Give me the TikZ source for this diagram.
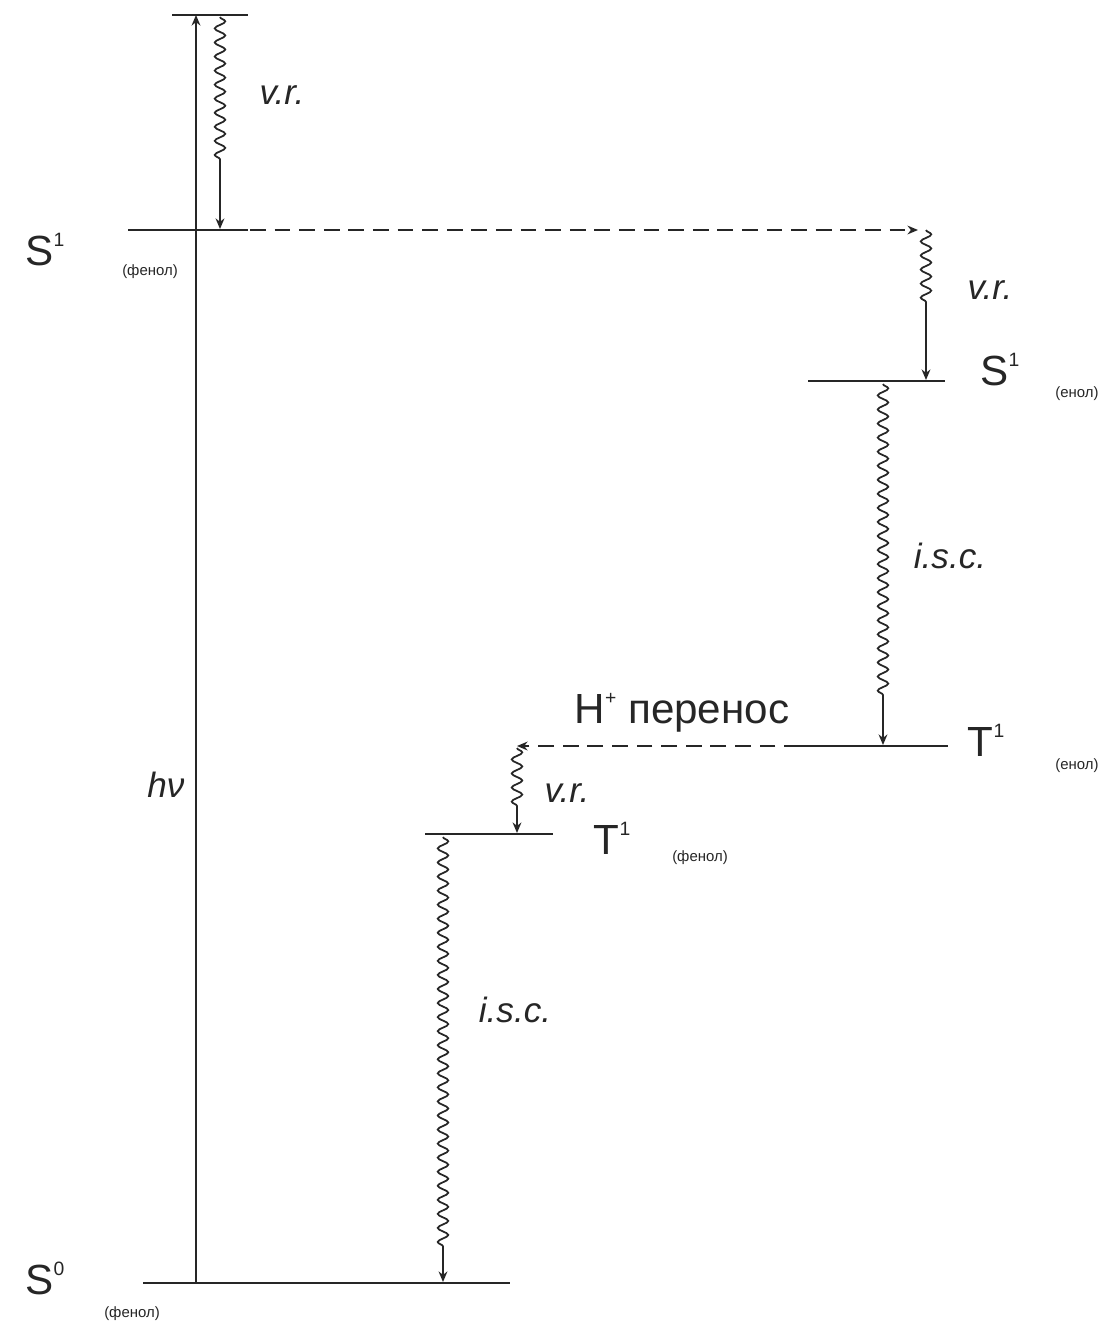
\documentclass[tikz,border=0pt]{standalone}
\usepackage{fontspec}
\setmainfont{Liberation Sans}
\usetikzlibrary{arrows.meta,decorations.pathmorphing}
\tikzset{
  lvl/.style={line width=1.2pt},
  jump/.style={line width=1pt,-{Stealth[length=6pt,width=5pt]}},
  dashjump/.style={jump,dash pattern=on 9pt off 5pt},
  wavy/.style={line width=1pt,-{Stealth[length=6pt,width=5pt]},decorate,
    decoration={snake,amplitude=3pt,segment length=8pt,post length=#1}},
  wavy/.default=1cm,
  big/.style={font=\fontsize{24}{24}\selectfont},
  sub/.style={font=\fontsize{8.5}{8.5}\selectfont},
  proc/.style={font=\itshape\fontsize{20}{20}\selectfont}
}
\newcommand{\lvsup}[1]{\raisebox{0.45em}{\fontsize{11}{11}\selectfont #1}}
\begin{document}
\begin{tikzpicture}[x=0.02cm,y=-0.02cm,black!85]
\useasboundingbox (0,0) rectangle (1112,1329);
% Energy levels
\draw[lvl] (172,15) coordinate (top_l) -- (248,15) coordinate (top_r);
\draw[lvl] (128,230) coordinate (s1f_l) -- (248,230) coordinate (s1f_r);
\draw[lvl] (808,381) coordinate (s1e_l) -- (945,381) coordinate (s1e_r);
\draw[lvl] (800,746) coordinate (t1e_l) -- (948,746) coordinate (t1e_r);
\draw[lvl] (425,834) coordinate (t1f_l) -- (553,834) coordinate (t1f_r);
\draw[lvl] (143,1283) coordinate (s0_l) -- (510,1283) coordinate (s0_r);

% Level labels
\node[big] (s1f) at (45,250) {S\lvsup{1}};
\node[sub] (s1f_sub) at (150,272) {(фенол)};
\node[big] (s1e) at (1000,370) {S\lvsup{1}};
\node[sub] (s1e_sub) at (1077,394) {(енол)};
\node[big] (t1e) at (986,740) {T\lvsup{1}};
\node[sub] (t1e_sub) at (1077,766) {(енол)};
\node[big] (t1f) at (612,838) {T\lvsup{1}};
\node[sub] (t1f_sub) at (700,858) {(фенол)};
\node[big] (s0) at (45,1278) {S\lvsup{0}};
\node[sub] (s0_sub) at (132,1314) {(фенол)};

% Excitation
\coordinate (hv_a) at (196,1283);
\coordinate (hv_b) at (196,15);
\draw[jump] (hv_a) -- (hv_b);
\node[proc] (hv) at (166,785) {hν};

% Vibrational relaxation and intersystem crossing
\coordinate (vr1_a) at (220,17);
\coordinate (vr1_b) at (220,229);
\draw[wavy=1.3cm] (vr1_a) -- (vr1_b);
\node[proc] (vr1) at (282,95) {v.r.};

\coordinate (pt_a) at (250,230);
\coordinate (pt_b) at (918,230);
\draw[dashjump] (pt_a) -- (pt_b);

\coordinate (vr2_a) at (926,230);
\coordinate (vr2_b) at (926,380);
\draw[wavy=1.5cm] (vr2_a) -- (vr2_b);
\node[proc] (vr2) at (990,290) {v.r.};

\coordinate (isc1_a) at (883,384);
\coordinate (isc1_b) at (883,745);
\draw[wavy=0.9cm] (isc1_a) -- (isc1_b);
\node[proc] (isc1) at (950,556) {i.s.c.};

\coordinate (ht_b) at (517,746);
\draw[dashjump] (t1e_l) -- (ht_b);
\node[font=\fontsize{24}{24}\selectfont] (ht) at (682,713) {H\lvsup{+} перенос};

\coordinate (vr3_a) at (517,748);
\coordinate (vr3_b) at (517,833);
\draw[wavy=0.5cm] (vr3_a) -- (vr3_b);
\node[proc] (vr3) at (567,793) {v.r.};

\coordinate (isc2_a) at (443,837);
\coordinate (isc2_b) at (443,1282);
\draw[wavy=0.6cm] (isc2_a) -- (isc2_b);
\node[proc] (isc2) at (515,1010) {i.s.c.};
\end{tikzpicture}
\end{document}
